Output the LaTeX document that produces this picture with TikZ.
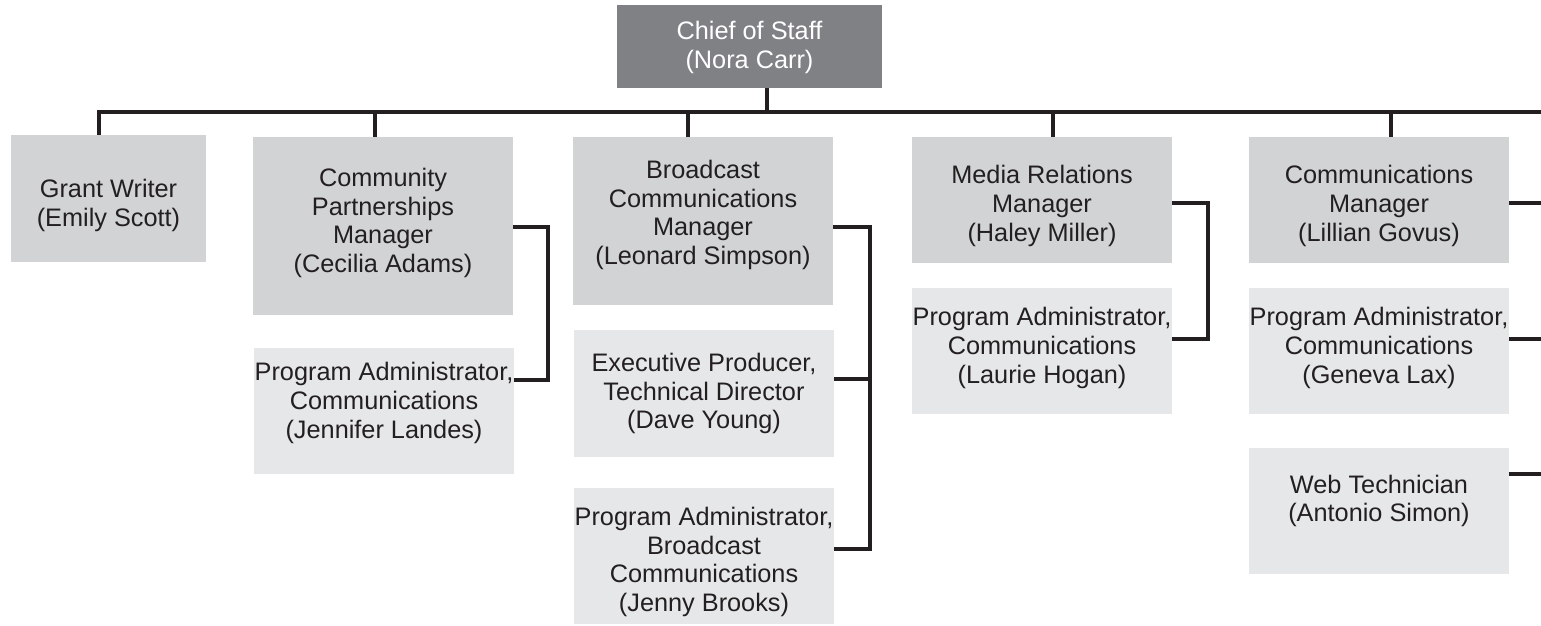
\documentclass[tikz,border=0pt]{standalone}
\usepackage{fontspec}
\setmainfont{Liberation Sans}
\definecolor{topgray}{HTML}{808184}
\definecolor{mgrgray}{HTML}{D1D3D4}
\definecolor{subgray}{HTML}{E6E7E8}
\definecolor{ink}{HTML}{231F20}
\begin{document}
\begin{tikzpicture}[x=1pt,y=-1pt,
  box/.style={rectangle,inner sep=0pt,outer sep=0pt,minimum width=260pt},
  mgr/.style={box,fill=mgrgray},
  sub/.style={box,fill=subgray},
  txt/.style={inner sep=0pt,align=center,text=ink,font=\fontsize{25.3}{28.7}\selectfont},
  conn/.style={draw=ink,line width=3.3pt}]
\useasboundingbox (0,0) rectangle (1541,625);
% boxes
\node[box,fill=topgray,minimum width=265pt,minimum height=83pt] (chief) at (749.5,46.5) {};
\node[txt,text=white] (chiefT) at ([yshift=-1pt]chief.center) {Chief of Staff\\(Nora Carr)};
\node[mgr,minimum width=195pt,minimum height=127pt] (grant) at (108.5,198.5) {};
\node[txt] (grantT) at ([yshift=-7pt]grant.center) {Grant Writer\\(Emily Scott)};
\node[mgr,minimum height=178pt] (comm) at (383,226) {};
\node[txt] (commT) at ([yshift=3pt]comm.center) {Community\\Partnerships\\Manager\\(Cecilia Adams)};
\node[sub,minimum height=126pt] (jen) at (384,411) {};
\node[txt] (jenT) at ([yshift=8pt]jen.center) {Program Administrator,\\Communications\\(Jennifer Landes)};
\node[mgr,minimum height=168pt] (broad) at (703,221) {};
\node[txt] (broadT) at ([yshift=6pt]broad.center) {Broadcast\\Communications\\Manager\\(Leonard Simpson)};
\node[sub,minimum height=127pt] (exec) at (704,393.5) {};
\node[txt] (execT) at (exec.center) {Executive Producer,\\Technical Director\\(Dave Young)};
\node[sub,minimum height=136pt] (jenny) at (704,556) {};
\node[txt] (jennyT) at ([yshift=-6pt]jenny.center) {Program Administrator,\\Broadcast\\Communications\\(Jenny Brooks)};
\node[mgr,minimum height=126pt] (media) at (1042,200) {};
\node[txt] (mediaT) at ([yshift=-6pt]media.center) {Media Relations\\Manager\\(Haley Miller)};
\node[sub,minimum height=126pt] (laurie) at (1042,351) {};
\node[txt] (laurieT) at ([yshift=3pt]laurie.center) {Program Administrator,\\Communications\\(Laurie Hogan)};
\node[mgr,minimum height=126pt] (lillian) at (1379,200) {};
\node[txt] (lillianT) at ([yshift=-6pt]lillian.center) {Communications\\Manager\\(Lillian Govus)};
\node[sub,minimum height=126pt] (geneva) at (1379,351) {};
\node[txt] (genevaT) at ([yshift=3pt]geneva.center) {Program Administrator,\\Communications\\(Geneva Lax)};
\node[sub,minimum height=126pt] (web) at (1379,511) {};
\node[txt] (webT) at ([yshift=10pt]web.center) {Web Technician\\(Antonio Simon)};
% bus
\coordinate (busL) at (97,112);
\coordinate (busR) at (1541,112);
\coordinate (stem) at (767,112);
\coordinate (dg) at (99,112);
\coordinate (dc) at (375,112);
\coordinate (db) at (688,112);
\coordinate (dm) at (1053,112);
\coordinate (dl) at (1391,112);
\draw[conn] (busL) -- (busR);
\draw[conn] (stem |- chief.south) -- (stem);
\draw[conn] (dg) -- (dg |- grant.north);
\draw[conn] (dc) -- (dc |- comm.north);
\draw[conn] (db) -- (db |- broad.north);
\draw[conn] (dm) -- (dm |- media.north);
\draw[conn] (dl) -- (dl |- lillian.north);
% brackets
\coordinate (c1) at (548,227);
\coordinate (c2) at (548,380);
\draw[conn] (comm.east |- c1) -- (c1) -- (c2) -- (jen.east |- c2);
\coordinate (b1) at (870,227);
\coordinate (b2) at (870,379);
\coordinate (b3) at (870,549);
\draw[conn] (broad.east |- b1) -- (b1) -- (b3) -- (jenny.east |- b3);
\draw[conn] (exec.east |- b2) -- (b2);
\coordinate (m1) at (1208,203);
\coordinate (m2) at (1208,339);
\draw[conn] (media.east |- m1) -- (m1) -- (m2) -- (laurie.east |- m2);
\coordinate (r1) at (1541,203);
\coordinate (r2) at (1541,339);
\coordinate (r3) at (1541,474);
\draw[conn] (lillian.east |- r1) -- (r1);
\draw[conn] (geneva.east |- r2) -- (r2);
\draw[conn] (web.east |- r3) -- (r3);
\end{tikzpicture}
\end{document}
